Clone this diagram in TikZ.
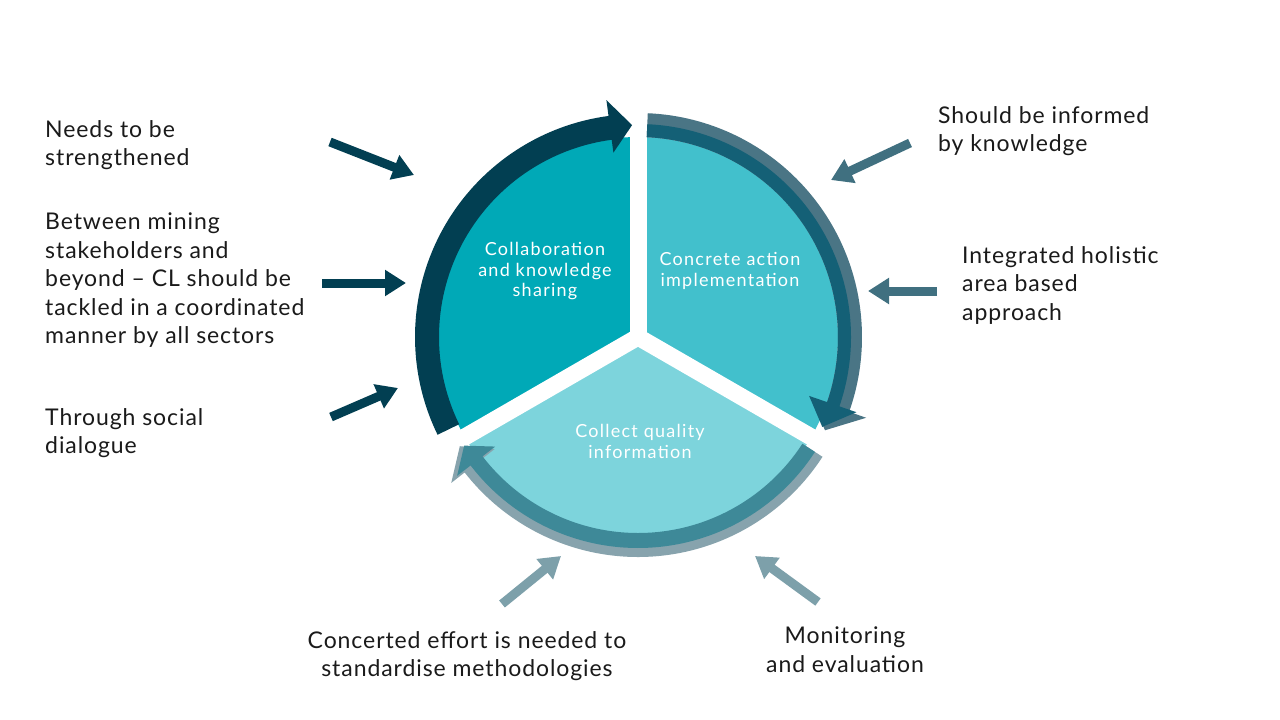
\documentclass[tikz,border=0pt]{standalone}
\usepackage{fontspec}
\setmainfont{Lato}[LetterSpace=4]
\newfontfamily\innerfont{Lato}[LetterSpace=7]
\usetikzlibrary{arrows.meta}
\definecolor{txt}{HTML}{1A1A1A}
\definecolor{secL}{HTML}{00A9B7}
\definecolor{secR}{HTML}{42C0CC}
\definecolor{secB}{HTML}{7DD4DC}
\definecolor{arrL}{HTML}{023F52}
\definecolor{arrRd}{HTML}{146076}
\definecolor{arrRl}{HTML}{4A7585}
\definecolor{arrBd}{HTML}{3E8998}
\definecolor{arrBl}{HTML}{87A3AD}
\definecolor{ptrR}{HTML}{407080}
\definecolor{ptrB}{HTML}{7DA0AA}
\tikzset{
  lbl/.style={font=\fontsize{23}{28.5}\selectfont, text=txt, inner sep=0pt, align=left, anchor=north west},
  clbl/.style={font=\fontsize{23}{28.5}\selectfont, text=txt, inner sep=0pt, align=center, anchor=north},
  inlbl/.style={font=\innerfont\fontsize{18}{20.5}\selectfont, text=white, inner sep=0pt, align=center, anchor=north},
  ptr/.style={line width=9pt, -{Triangle[width=25pt,length=21pt]}},
  gapline/.style={white, line width=17pt},
}
\begin{document}
\begin{tikzpicture}[x=1pt,y=1pt]
\useasboundingbox[fill=white] (0,0) rectangle (1280,-720);

% wheel
\begin{scope}[shift={(638,-337)}]
  \coordinate (C) at (0,0);
  \fill[secL] (0,0) -- (90:200) arc[start angle=90, end angle=210, radius=200] -- cycle;
  \fill[secR] (0,0) -- (-30:200) arc[start angle=-30, end angle=90, radius=200] -- cycle;
  \fill[secB] (0,0) -- (210:200) arc[start angle=210, end angle=330, radius=200] -- cycle;
  \draw[gapline] (0,0) -- (90:202);
  \draw[gapline] (0,0) -- (210:202);
  \draw[gapline] (0,0) -- (330:202);

  % left arrow
  \fill[arrL] (206:199) arc[start angle=206, end angle=97.6, radius=199]
     -- (97.6:186) -- (91.6:212) -- (97.6:239) -- (97.6:223)
     arc[start angle=97.6, end angle=206, radius=223] -- cycle;

  % right arrow (light shadow + dark)
  \fill[arrRl] (87.5:200) arc[start angle=87.5, end angle=-19.5, radius=200]
     -- (-19.5:183) -- (-26.5:209) -- (-19.5:242) -- (-19.5:224)
     arc[start angle=-19.5, end angle=87.5, radius=224] -- cycle;
  \fill[arrRd] (87.5:200) arc[start angle=87.5, end angle=-19, radius=200]
     -- (-19:181) -- (-26:205) -- (-19:231) -- (-19:213)
     arc[start angle=-19, end angle=87.5, radius=213] -- cycle;

  % bottom arrow (light shadow + dark)
  \fill[arrBl] (-33:199) arc[start angle=-33, end angle=-142, radius=199]
     -- (218:182) -- (211.5:209) -- (218:237) -- (218:220)
     arc[start angle=-142, end angle=-33, radius=220] -- cycle;
  \fill[arrBd] (-33:196) arc[start angle=-33, end angle=-142.5, radius=196]
     -- (217.5:180) -- (212:205) -- (217.5:228) -- (217.5:211)
     arc[start angle=-142.5, end angle=-33, radius=211] -- cycle;
\end{scope}

% inner labels
\node[inlbl] (collab) at (545,-242.5) {Collaboration\\and knowledge\\sharing};
\node[inlbl] (concrete) at (730,-252.5) {Concrete action\\implementation};
\node[inlbl] (collect) at (640,-424.5) {Collect quality\\information};

% outer labels
\node[lbl] (needs) at (45,-120) {Needs to be\\strengthened};
\node[lbl] (between) at (45,-213) {Between mining\\stakeholders and\\beyond – CL should be\\tackled in a coordinated\\manner by all sectors};
\node[lbl] (through) at (45,-408) {Through social\\dialogue};
\node[lbl] (should) at (938,-106) {Should be informed\\by knowledge};
\node[lbl] (integ) at (962,-246) {Integrated holistic\\area based\\approach};
\node[clbl] (concert) at (467,-631) {Concerted effort is needed to\\standardise methodologies};
\node[clbl] (monit) at (845,-627) {Monitoring\\and evaluation};

% pointer arrows
\coordinate (p1s) at (330,-142); \coordinate (p1e) at (414,-175);
\coordinate (p2s) at (322,-283); \coordinate (p2e) at (406,-283);
\coordinate (p3s) at (331,-417); \coordinate (p3e) at (398,-388);
\coordinate (p4s) at (910,-143); \coordinate (p4e) at (831,-180);
\coordinate (p5s) at (937,-291); \coordinate (p5e) at (868,-291);
\coordinate (p6s) at (502,-604); \coordinate (p6e) at (561,-556);
\coordinate (p7s) at (818,-602); \coordinate (p7e) at (755,-556);
\draw[ptr, arrL] (p1s) -- (p1e);
\draw[ptr, arrL] (p2s) -- (p2e);
\draw[ptr, arrL] (p3s) -- (p3e);
\draw[ptr, ptrR] (p4s) -- (p4e);
\draw[ptr, ptrR] (p5s) -- (p5e);
\draw[ptr, ptrB] (p6s) -- (p6e);
\draw[ptr, ptrB] (p7s) -- (p7e);
\end{tikzpicture}
\end{document}
